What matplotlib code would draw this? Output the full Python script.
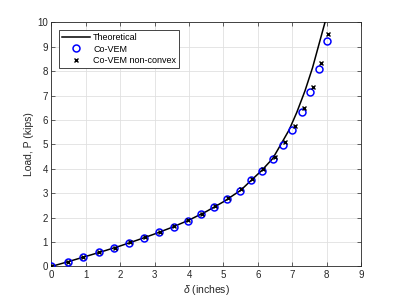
import matplotlib
matplotlib.use("Agg")
import matplotlib.pyplot as plt

plt.rcParams['font.family'] = ['Liberation Sans', 'DejaVu Sans']
plt.rcParams['mathtext.fontset'] = 'custom'
plt.rcParams['mathtext.it'] = 'Liberation Sans:italic'
plt.rcParams['mathtext.rm'] = 'Liberation Sans'

# Theoretical curve
theo_x = [0, 0.5, 1.0, 1.5, 2.0, 2.5, 3.0, 3.5, 4.0, 4.5, 5.0, 5.5, 5.8, 6.11, 6.43, 6.66, 6.91, 7.13, 7.37, 7.59, 7.80, 7.95]
theo_p = [0, 0.20, 0.41, 0.62, 0.84, 1.08, 1.33, 1.60, 1.90, 2.25, 2.65, 3.12, 3.52, 3.93, 4.42, 4.98, 5.60, 6.31, 7.20, 8.15, 9.23, 10.0]

# Co-VEM
vem_x = [0, 0.47, 0.92, 1.38, 1.83, 2.26, 2.70, 3.13, 3.55, 3.96, 4.35, 4.73, 5.11, 5.48, 5.80, 6.11, 6.45, 6.74, 7.00, 7.27, 7.52, 7.77, 8.00]
vem_p = [0, 0.19, 0.38, 0.58, 0.76, 0.97, 1.18, 1.39, 1.61, 1.87, 2.13, 2.43, 2.75, 3.11, 3.53, 3.93, 4.42, 4.99, 5.61, 6.32, 7.15, 8.11, 9.22]

# Co-VEM non-convex
nc_x = [0, 0.48, 0.93, 1.39, 1.84, 2.28, 2.72, 3.15, 3.57, 3.98, 4.37, 4.76, 5.14, 5.51, 5.84, 6.16, 6.49, 6.80, 7.08, 7.35, 7.60, 7.83, 8.05]
nc_p = [0, 0.19, 0.39, 0.58, 0.77, 0.98, 1.20, 1.41, 1.64, 1.90, 2.16, 2.46, 2.80, 3.16, 3.58, 4.00, 4.50, 5.09, 5.75, 6.50, 7.34, 8.33, 9.51]

xticks = list(range(0, 10))
yticks = list(range(0, 11))

dark = (0.15, 0.15, 0.15)

fig = plt.figure(figsize=(3.99, 2.99), dpi=100)
ax = fig.add_axes([0.129, 0.109, 0.776, 0.816])

ax.plot(theo_x, theo_p, color='black', lw=1.1, label='Theoretical', zorder=3)
ax.plot(vem_x, vem_p, ls='none', marker='o', ms=5, mfc='none', mec=(0, 0, 1), mew=1.1,
        label='Co-VEM', zorder=4)
ax.plot(nc_x, nc_p, ls='none', marker='x', ms=3.5, color='black', mew=1.0,
        label='Co-VEM non-convex', zorder=5)

ax.set_xlim(0, 9)
ax.set_ylim(0, 10)
ax.set_xticks(xticks)
ax.set_yticks(yticks)
ax.grid(True, color=(0.88, 0.88, 0.88), lw=0.6)
ax.set_axisbelow(True)
ax.tick_params(direction='in', top=True, right=True, labelsize=7, colors=dark,
               length=3, width=0.5, pad=2.5)
for s in ax.spines.values():
    s.set_color(dark)
    s.set_linewidth(0.6)

ax.set_xlabel(r'$\delta$ (inches)', fontsize=7.5, color=dark, labelpad=2)
ax.set_ylabel('Load, P (kips)', fontsize=7.5, color=dark, labelpad=2)

leg = ax.legend(loc='upper left', fontsize=6.5, bbox_to_anchor=(0.024, 0.968),
                handlelength=3.2, borderaxespad=0.0, borderpad=0.3, labelspacing=0.3,
                handletextpad=0.3, fancybox=False, framealpha=1)
leg.get_frame().set_edgecolor(dark)
leg.get_frame().set_linewidth(0.6)

fig.savefig('out.png', dpi=100)
